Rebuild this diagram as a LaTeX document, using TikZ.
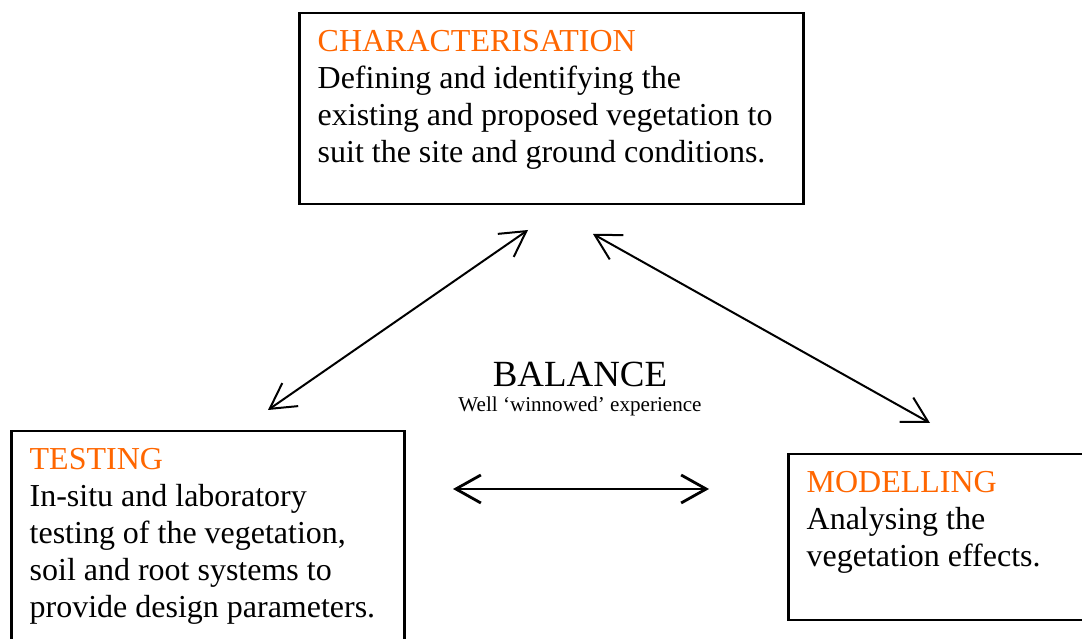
\documentclass[tikz,border=0pt]{standalone}
\usepackage{fontspec}
\setmainfont{Liberation Serif}
\usepackage{tikz}
\usetikzlibrary{calc}
\usetikzlibrary{positioning}
\usetikzlibrary{arrows.meta}
\definecolor{headorange}{HTML}{FF6600}

\begin{document}
\begin{tikzpicture}
\tikzstyle{box}=[rectangle,draw,line width=0.25mm,anchor=north west,inner sep=0pt]
\tikzstyle{body}=[anchor=north west,align=left,inner sep=0pt,font=\fontsize{9.1}{10.53}\selectfont]
\tikzstyle{link}=[line width=0.2mm,{Straight Barb[length=2.5mm,width=2.8mm]}-{Straight Barb[length=2.5mm,width=2.8mm]}]
\useasboundingbox (0,0) rectangle (10.82,-6.39);
% the three boxes
\node[box,minimum width=5.04cm,minimum height=1.91cm] at(2.98,-0.12) (charbox) {};
\node[box,minimum width=3.93cm,minimum height=2.2cm] at(0.10,-4.30) (testbox) {};
\node[box,minimum width=3.2cm,minimum height=1.66cm] at(7.87,-4.53) (modbox) {};
% their texts
\node[body] at(3.17,-0.30) (char) {\textcolor{headorange}{CHARACTERISATION}\\
                                     Defining and identifying the\\
                                     existing and proposed vegetation to\\
                                     suit the site and ground conditions.};
\node[body] at(0.29,-4.48) (test) {\textcolor{headorange}{TESTING}\\
                                    In-situ and laboratory\\
                                    testing of the vegetation,\\
                                    soil and root systems to\\
                                    provide design parameters.};
\node[body] at(8.06,-4.71) (mod) {\textcolor{headorange}{MODELLING}\\
                                   Analysing the\\
                                   vegetation effects.};
% centre
\node[inner sep=0pt,anchor=base,font=\fontsize{10.5}{12}\selectfont] at(5.80,-3.87) (balance) {BALANCE};
\node[inner sep=0pt,anchor=base,font=\fontsize{6}{7}\selectfont] at(5.80,-4.12) (winnow) {Well ‘winnowed’ experience};
% arrows
\coordinate (l1) at(2.68,-4.10);
\coordinate (l2) at(5.28,-2.30);
\coordinate (r1) at(5.93,-2.34);
\coordinate (r2) at(9.30,-4.23);
\coordinate (h1) at(4.53,-4.89);
\coordinate (h2) at(7.09,-4.89);
\draw[link] (l1) -- (l2);
\draw[link] (r1) -- (r2);
\draw[link,line width=0.28mm] (h1) -- (h2);
\end{tikzpicture}
\end{document}
